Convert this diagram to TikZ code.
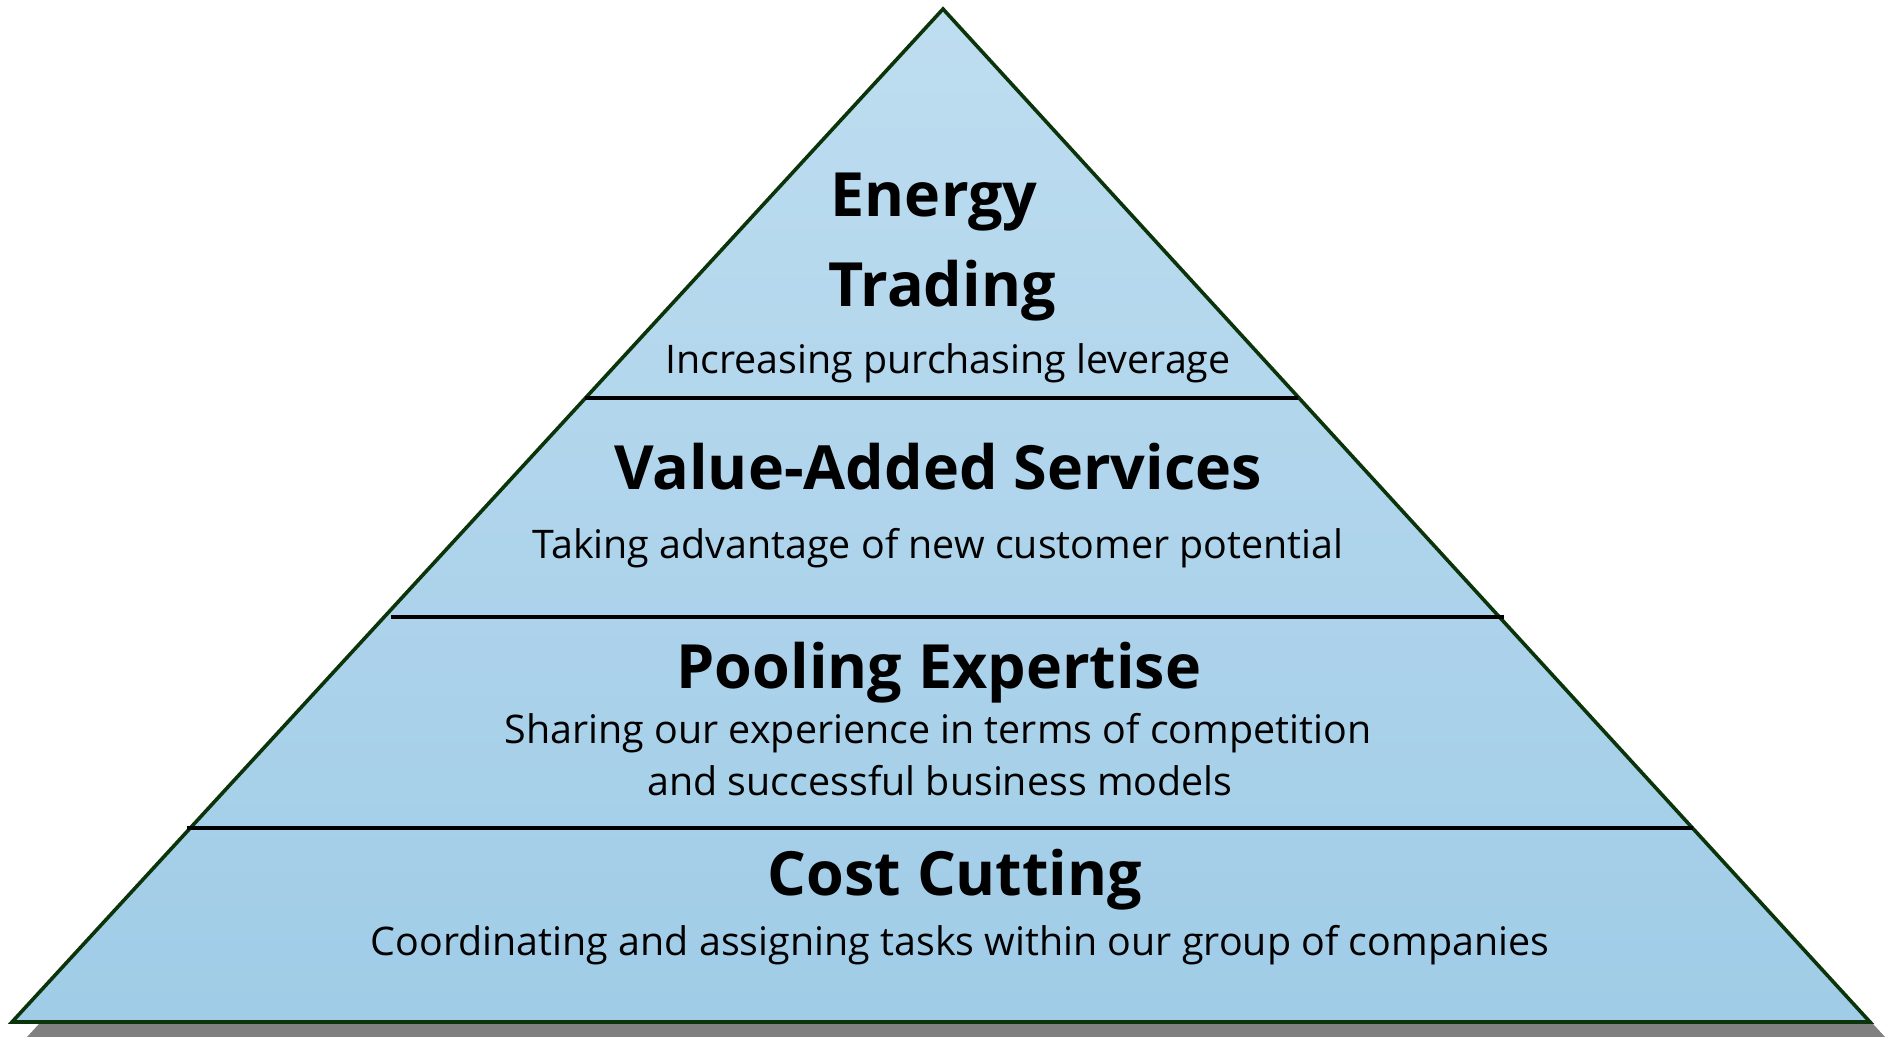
\documentclass[tikz,border=0pt]{standalone}
\usepackage{fontspec}
\setmainfont{Open Sans}
\usetikzlibrary{positioning}
\definecolor{edgegreen}{RGB}{12,52,10}
\definecolor{pyrtop}{RGB}{190,221,240}
\definecolor{pyrbottom}{RGB}{160,204,231}
\tikzset{layertitle/.style={anchor=base,inner sep=0pt,font=\fontsize{30.5}{36}\selectfont\bfseries},
	layertext/.style={anchor=base,inner sep=0pt,font=\fontsize{19.7}{24}\selectfont},
	divider/.style={line width=1.6pt,black}}
\begin{document}
\begin{tikzpicture}[x=0.5pt,y=-0.5pt]
	\useasboundingbox (0,0) rectangle (1889,1037);
	\coordinate (apex) at (943,9);
	\coordinate (baseL) at (12,1022);
	\coordinate (baseR) at (1870,1022);
	% shadow
	\fill[gray] ([shift={(15,15)}]apex) -- ([shift={(15,15)}]baseL) -- ([shift={(15,15)}]baseR) -- cycle;
	% pyramid
	\shade[top color=pyrtop,bottom color=pyrbottom] (apex) -- (baseL) -- (baseR) -- cycle;
	\draw[edgegreen,line width=1.8pt,line join=miter] (apex) -- (baseL) -- (baseR) -- cycle;
	% layer borders
	\coordinate (d1L) at (585,398);
	\coordinate (d1R) at (1298,398);
	\coordinate (d2L) at (391,617);
	\coordinate (d2R) at (1504,617);
	\coordinate (d3L) at (187,828);
	\coordinate (d3R) at (1693,828);
	\draw[divider] (d1L) -- (d1R);
	\draw[divider] (d2L) -- (d2R);
	\draw[divider] (d3L) -- (d3R);
	% texts
	\node[layertitle] (energy) at (934,217) {Energy};
	\node[layertitle] (trading) at (942,307) {Trading};
	\node[layertext] (leverage) at (948,373) {Increasing purchasing leverage};
	\node[layertitle] (value) at (938,489) {Value-Added Services};
	\node[layertext] (potential) at (938,558) {Taking advantage of new customer potential};
	\node[layertitle] (pooling) at (939,688) {Pooling Expertise};
	\node[layertext] (sharing) at (938,743) {Sharing our experience in terms of competition};
	\node[layertext] (models) at (940,795) {and successful business models};
	\node[layertitle] (cost) at (955,895) {Cost Cutting};
	\node[layertext] (tasks) at (960,955) {Coordinating and assigning tasks within our group of companies};
\end{tikzpicture}
\end{document}
